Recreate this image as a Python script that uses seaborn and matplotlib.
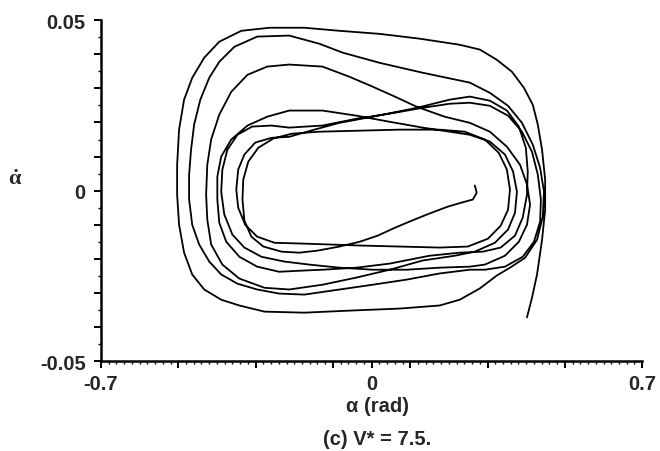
import numpy as np
import pandas as pd
import matplotlib.pyplot as plt
import seaborn as sns

# Phase trajectory (alpha [rad], alpha_dot), read off the picture loop by loop
# start: from the centre going down-left
alpha_s = [0.267, 0.272, 0.262, 0.233, 0.197, 0.150, 0.104, 0.060, 0.016, -0.031, -0.083, -0.140, -0.187]
adot_s = [0.0015, -0.0006, -0.0026, -0.0035, -0.0047, -0.0067, -0.0088, -0.0109, -0.0132, -0.0150, -0.0164, -0.0176, -0.0182]

# loop 1 (innermost)
alpha_l1 = [-0.233, -0.280, -0.311, -0.329, -0.334, -0.332, -0.319, -0.293, -0.254, -0.207, -0.135, -0.031, 0.073,
            0.176, 0.241, 0.293, 0.329, 0.350, 0.358, 0.353, 0.334, 0.301, 0.249, 0.176, 0.073, -0.031, -0.109]
adot_l1 = [-0.0179, -0.0164, -0.0135, -0.0088, -0.0026, 0.0032, 0.0085, 0.0126, 0.0153, 0.0167, 0.0173, 0.0176, 0.0179,
           0.0179, 0.0173, 0.0150, 0.0111, 0.0062, 0.0003, -0.0056, -0.0103, -0.0141, -0.0164, -0.0167, -0.0164, -0.0161, -0.0158]

# loop 2
alpha_l2 = [-0.187, -0.251, -0.296, -0.327, -0.345, -0.350, -0.345, -0.329, -0.301, -0.259, -0.213, -0.148, -0.083, 0.003,
            0.117, 0.202, 0.254, 0.306, 0.350, 0.381, 0.399, 0.404, 0.402, 0.391, 0.371, 0.334, 0.288, 0.228, 0.150,
            0.047, -0.039, -0.127, -0.187]
adot_l2 = [-0.0155, -0.0153, -0.0135, -0.0100, -0.0050, 0.0003, 0.0062, 0.0106, 0.0141, 0.0155, 0.0158, 0.0179, 0.0199, 0.0217,
           0.0243, 0.0267, 0.0276, 0.0264, 0.0235, 0.0188, 0.0126, 0.0056, -0.0012, -0.0079, -0.0132, -0.0167, -0.0179, -0.0182, -0.0191,
           -0.0214, -0.0226, -0.0232, -0.0235]

# loop 3
alpha_l3 = [-0.239, -0.296, -0.342, -0.376, -0.394, -0.399, -0.399, -0.389, -0.363, -0.321, -0.270, -0.213, -0.127, -0.039,
            0.047, 0.132, 0.202, 0.254, 0.306, 0.345, 0.366, 0.376, 0.371, 0.353, 0.319, 0.267, 0.215, 0.132, 0.047,
            -0.039, -0.127, -0.213]
adot_l3 = [-0.0238, -0.0223, -0.0194, -0.0150, -0.0094, -0.0026, 0.0041, 0.0100, 0.0150, 0.0191, 0.0217, 0.0235, 0.0235, 0.0220,
           0.0202, 0.0185, 0.0173, 0.0164, 0.0144, 0.0106, 0.0056, -0.0003, -0.0065, -0.0114, -0.0153, -0.0179, -0.0191, -0.0205, -0.0232,
           -0.0255, -0.0276, -0.0290]

# loop 4
alpha_l4 = [-0.277, -0.342, -0.386, -0.415, -0.425, -0.428, -0.425, -0.415, -0.394, -0.363, -0.321, -0.270, -0.213, -0.127,
            -0.057, 0.003, 0.060, 0.117, 0.189, 0.254, 0.306, 0.350, 0.384, 0.402, 0.410, 0.402, 0.381, 0.345, 0.293,
            0.254, 0.176, 0.091, 0.003, -0.083, -0.161]
adot_l4 = [-0.0285, -0.0258, -0.0217, -0.0158, -0.0085, -0.0012, 0.0076, 0.0150, 0.0223, 0.0290, 0.0340, 0.0364, 0.0370, 0.0364,
           0.0334, 0.0305, 0.0276, 0.0246, 0.0217, 0.0199, 0.0173, 0.0129, 0.0076, 0.0018, -0.0041, -0.0100, -0.0150, -0.0191, -0.0217,
           -0.0223, -0.0226, -0.0232, -0.0232, -0.0226, -0.0217]

# loop 5
alpha_l5 = [-0.226, -0.285, -0.329, -0.360, -0.381, -0.389, -0.386, -0.373, -0.347, -0.309, -0.259, -0.213, -0.127, -0.039,
            0.047, 0.132, 0.202, 0.254, 0.306, 0.353, 0.389, 0.415, 0.430, 0.438, 0.436, 0.420, 0.391, 0.345, 0.293,
            0.254, 0.176, 0.091, 0.003, -0.083, -0.174]
adot_l5 = [-0.0208, -0.0194, -0.0167, -0.0129, -0.0070, -0.0003, 0.0062, 0.0120, 0.0164, 0.0188, 0.0191, 0.0185, 0.0191, 0.0211,
           0.0226, 0.0243, 0.0255, 0.0258, 0.0249, 0.0220, 0.0173, 0.0114, 0.0047, -0.0026, -0.0091, -0.0150, -0.0194, -0.0223, -0.0232,
           -0.0232, -0.0243, -0.0261, -0.0276, -0.0290, -0.0305]

# loop 6
alpha_l6 = [-0.239, -0.296, -0.347, -0.389, -0.420, -0.446, -0.464, -0.472, -0.472, -0.467, -0.459, -0.443, -0.420, -0.394,
            -0.355, -0.296, -0.213, -0.135, -0.075, 0.021, 0.132, 0.254, 0.306, 0.353, 0.389, 0.417, 0.436, 0.446,
            0.443, 0.428, 0.397, 0.358, 0.324, 0.280, 0.228, 0.176, 0.073, -0.057, -0.174, -0.277, -0.342]
adot_l6 = [-0.0302, -0.0290, -0.0273, -0.0246, -0.0208, -0.0158, -0.0100, -0.0026, 0.0047, 0.0120, 0.0194, 0.0267, 0.0331, 0.0378,
           0.0422, 0.0452, 0.0455, 0.0431, 0.0405, 0.0375, 0.0346, 0.0317, 0.0287, 0.0249, 0.0199, 0.0135, 0.0067, -0.0003,
           -0.0076, -0.0144, -0.0197, -0.0226, -0.0249, -0.0287, -0.0320, -0.0337, -0.0346, -0.0352, -0.0358, -0.0355, -0.0337]

# loop 7 (outermost, ends going down on the right)
alpha_l7 = [-0.389, -0.433, -0.464, -0.485, -0.498, -0.503, -0.503, -0.498, -0.485, -0.464, -0.433, -0.394, -0.337, -0.264,
            -0.174, -0.083, 0.021, 0.124, 0.228, 0.280, 0.324, 0.363, 0.394, 0.417, 0.430, 0.441, 0.449, 0.449, 0.441,
            0.428, 0.415, 0.402]
adot_l7 = [-0.0320, -0.0290, -0.0246, -0.0182, -0.0100, -0.0012, 0.0076, 0.0179, 0.0267, 0.0331, 0.0390, 0.0437, 0.0469, 0.0478,
           0.0478, 0.0469, 0.0460, 0.0446, 0.0428, 0.0414, 0.0384, 0.0349, 0.0302, 0.0252, 0.0194, 0.0120, 0.0032, -0.0056, -0.0144,
           -0.0246, -0.0314, -0.0372]

x_ticks = [-0.7, -0.5, -0.3, -0.1, 0, 0.1, 0.3, 0.5, 0.7]
x_labels = ['-0.7', '', '', '', '0', '', '', '', '0.7']
y_ticks = [-0.05, -0.04, -0.03, -0.02, -0.01, 0, 0.01, 0.02, 0.03, 0.04, 0.05]
y_labels = ['-0.05', '', '', '', '', '0', '', '', '', '', '0.05']

alpha_all = np.concatenate([alpha_s, alpha_l1, alpha_l2, alpha_l3, alpha_l4, alpha_l5, alpha_l6, alpha_l7])
adot_all = np.concatenate([adot_s, adot_l1, adot_l2, adot_l3, adot_l4, adot_l5, adot_l6, adot_l7])
df = pd.DataFrame({'alpha': alpha_all, 'alpha_dot': adot_all})

sns.set_theme(style='ticks')
plt.rcParams['font.family'] = ['Liberation Sans', 'DejaVu Sans']
plt.rcParams['font.weight'] = 'bold'
plt.rcParams['axes.unicode_minus'] = False
plt.rcParams['mathtext.fontset'] = 'custom'
plt.rcParams['mathtext.rm'] = 'Liberation Serif:bold'
plt.rcParams['mathtext.it'] = 'Liberation Serif:bold'

fig = plt.figure(figsize=(6.6, 4.52), dpi=100)
ax = fig.add_axes([0.153, 0.199, 0.820, 0.754])

sns.lineplot(data=df, x='alpha', y='alpha_dot', sort=False, estimator=None,
             color='black', linewidth=1.3, ax=ax)

ax.set_xlim(-0.7, 0.7)
ax.set_ylim(-0.05, 0.05)
sns.despine(ax=ax)
for side in ['left', 'bottom']:
    ax.spines[side].set_linewidth(1.8)
    ax.spines[side].set_color('black')

ax.set_xticks(x_ticks)
ax.set_xticklabels(x_labels, fontsize=14.5, fontweight='bold')
ax.set_xticks(np.arange(-0.7, 0.7001, 0.02), minor=True)
ax.set_yticks(y_ticks)
ax.set_yticklabels(y_labels, fontsize=14.5, fontweight='bold')
ax.set_yticks(np.arange(-0.05, 0.0501, 0.005), minor=True)
ax.tick_params(which='major', direction='out', length=5, width=1.4, color='black', pad=4)
ax.tick_params(which='minor', direction='out', length=2.5, width=1.0, color='black')
ax.tick_params(axis='y', which='major', pad=6)

ax.set_xlabel('')
ax.set_ylabel('')
fig.text(15 / 660, 1 - 180 / 452, r'$\dot{\alpha}$', fontsize=16, ha='center', va='center')
fig.text(377 / 660, 1 - 407 / 452, 'α (rad)', fontsize=14.5, fontweight='bold', ha='center', va='center')
fig.text(377 / 660, 1 - 440 / 452, '(c) V* = 7.5.', fontsize=14.5, fontweight='bold', ha='center', va='center')

fig.savefig('out.png', dpi=100)
